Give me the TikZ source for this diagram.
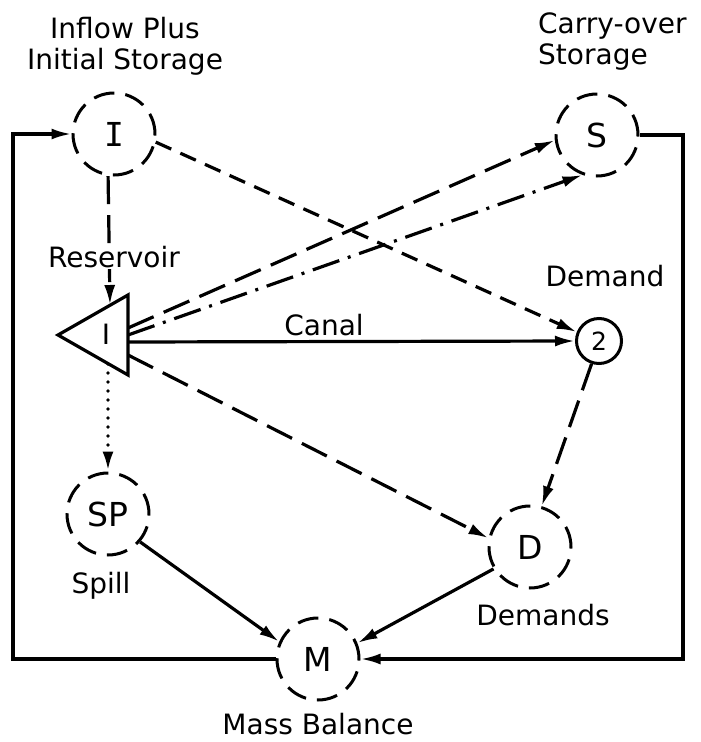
\documentclass[tikz,border=0pt]{standalone}
\usepackage{fontspec}
\setmainfont{DejaVu Sans}
\newfontfamily\romanI{DejaVu Sans Mono}
\usetikzlibrary{arrows.meta}
\newcommand\lblsize{\fontsize{28}{31}\selectfont}
\newcommand\varsize{\fontsize{33}{36}\selectfont}
\tikzset{
    flowarrow/.style={-{Latex[length=20pt,width=11pt]}, line width=3.2pt},
    flowline/.style={line width=3.2pt},
    longdash/.style={dash pattern=on 28pt off 11pt},
    shortdash/.style={dash pattern=on 17pt off 10pt},
    dashdot/.style={dash pattern=on 28pt off 9pt on 3pt off 9pt},
    dotline/.style={dash pattern=on 0pt off 9pt, line cap=round, line width=3.8pt},
    varnode/.style={shape=circle, draw, line width=3pt, dash pattern=on 21pt off 11pt,
        minimum size=82pt, inner sep=0pt, font=\varsize},
    lbl/.style={font=\lblsize, inner sep=1pt}
}

\begin{document}
\begin{tikzpicture}[x=1pt,y=-1pt]
    \useasboundingbox (0,0) rectangle (701,742);

    % variables
    \node[varnode] (inflow) at (114,134) {\romanI I};
    \node[varnode] (storage) at (597,135) {S};
    \node[varnode] (spill) at (108,514) {SP};
    \node[varnode] (dems) at (530,547) {D};
    \node[varnode] (mass) at (318,659) {M};
    \node[shape=circle, draw, line width=3pt, minimum size=45pt, inner sep=0pt,
        font=\fontsize{25}{28}\selectfont] (dem) at (599,341) {2};

    % reservoir
    \draw[flowline, line join=miter] (58,335) -- (128,295) -- (128,375) -- cycle;
    \node[font=\lblsize] (res) at (106,334) {I};
    \coordinate (resTop) at (110,305);
    \coordinate (resBot) at (108,364);
    \coordinate (resS) at (128,328);
    \coordinate (resSd) at (128,335);
    \coordinate (resC) at (128,342);
    \coordinate (resD) at (128,355);

    % loop corners
    \coordinate (loopL) at (13,0);
    \coordinate (loopR) at (683,0);

    \path [flowarrow, longdash](inflow.-98) edge (resTop);
    \path [flowarrow, dotline](resBot) edge (spill.north);
    \path [flowarrow, shortdash](inflow.-11) edge (dem.158);
    \path [flowarrow, longdash](resS) edge (storage.187);
    \path [flowarrow, dashdot](resSd) edge (storage.250);
    \path [flowarrow](resC) edge (dem.west);
    \path [flowarrow, longdash](resD) edge (dems.168);
    \path [flowarrow, longdash](dem.-108) edge (dems.74);
    \path [flowarrow](spill.-41) edge (mass.156);
    \path [flowarrow](dems.211) edge (mass.22);

    \draw[flowarrow] (mass.west) -- (mass.west -| loopL) -- (inflow.west -| loopL) -- (inflow.west);
    \draw[flowarrow] (storage.east) -- (storage.east -| loopR) -- (mass.east -| loopR) -- (mass.east);

    % labels
    \node[lbl, align=center] (inflowlbl) at (125,46) {Inflow Plus\\Initial Storage};
    \node[lbl, align=left, anchor=north west, inner sep=0pt] (storagelbl) at (538,13) {Carry-over\\Storage};
    \node[lbl, fill=white] (reslbl) at (114,257) {Reservoir};
    \node[lbl] (canallbl) at (324,325) {Canal};
    \node[lbl] (demlbl) at (605,276) {Demand};
    \node[lbl] (spilllbl) at (101,586) {Spill};
    \node[lbl] (demslbl) at (543,615) {Demands};
    \node[lbl] (masslbl) at (318,724) {Mass Balance};
\end{tikzpicture}
\end{document}
